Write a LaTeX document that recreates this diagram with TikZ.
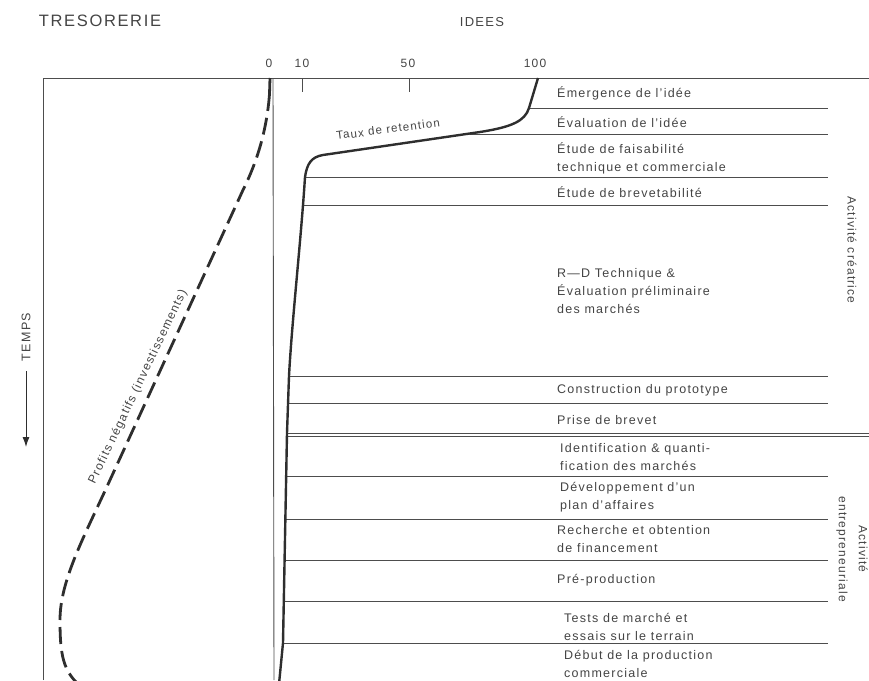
\documentclass[tikz,border=0pt]{standalone}
\usepackage{fontspec}
\setmainfont{Liberation Sans}[LetterSpace=10]
\usetikzlibrary{arrows.meta}
\definecolor{ink}{HTML}{2E2E2E}
\definecolor{txt}{HTML}{444444}
\begin{document}
\begin{tikzpicture}[x=1pt,y=-1pt,
  frame/.style={line width=0.9pt, draw=ink!85},
  sepline/.style={line width=0.9pt, draw=ink!85},
  ret/.style={line width=2.4pt, draw=ink, line join=round},
  cash/.style={line width=2.8pt, draw=ink, dash pattern=on 17pt off 7pt},
  lbl/.style={anchor=west, inner sep=0pt, text=txt, align=left, font=\fontsize{12.5}{18}\selectfont},
  num/.style={inner sep=0pt, text=txt, font=\fontsize{12}{14}\selectfont},
  side/.style={inner sep=0pt, text=txt, align=center, font=\fontsize{12}{20}\selectfont}]
\useasboundingbox (0,0) rectangle (869,680);
\clip (0,0) rectangle (869,680);
% headings
\node[inner sep=0pt, text=txt, font=\fontsize{16.5}{18}\selectfont] (tres) at (100,21) {TRESORERIE};
\node[inner sep=0pt, text=txt, font=\fontsize{13}{15}\selectfont] (idees) at (482,22) {IDEES};
% scale numbers
\node[num] (n0) at (269,63) {0};
\node[num] (n10) at (302,63) {10};
\node[num] (n50) at (408,63) {50};
\node[num] (n100) at (535,63) {100};
% frame and axes
\draw[frame] (43,680) -- (43,78) -- (869,78);
\draw[frame] (273,78) -- (274,680);
\draw[frame] (302,78) -- (302,92);
\draw[frame] (409,78) -- (409,92);
% separators
\draw[sepline] (530,108) -- (828,108);
\draw[sepline] (470,134) -- (828,134);
\draw[sepline] (305,177) -- (828,177);
\draw[sepline] (303,205) -- (828,205);
\draw[sepline] (289,376) -- (828,376);
\draw[sepline] (288,403) -- (828,403);
\draw[sepline] (287,433) -- (869,433);
\draw[sepline] (287,436.5) -- (869,436.5);
\draw[sepline] (286,476) -- (828,476);
\draw[sepline] (285,519) -- (828,519);
\draw[sepline] (284,560) -- (828,560);
\draw[sepline] (284,601) -- (828,601);
\draw[sepline] (283,643) -- (828,643);
% retention curve
\draw[ret] (538,78) -- (529,108) .. controls (525,121) and (512,127) .. (480,132)
  -- (323,155) .. controls (311,157) and (307,164) .. (305,177)
  .. controls (301,240) and (292,320) .. (289,376) -- (287,433) -- (283,643) -- (279,684);
\node[inner sep=0pt, text=txt, rotate=7.5, font=\fontsize{11.5}{13}\selectfont] (taux) at (388,129) {Taux de retention};
% cash curve
\draw[line width=2.8pt, draw=ink] (270,78) -- (269.5,94);
\draw[cash] (269.5,94) .. controls (267,128) and (258,160) .. (243,190)
  -- (110,480) .. controls (85,535) and (60,580) .. (60,620)
  .. controls (60,660) and (64,675) .. (88,692);
\node[inner sep=0pt, text=txt, rotate=64.5, font=\fontsize{12}{13}\selectfont] (profits) at (138,387) {Profits négatifs (investissements)};
% time axis
\node[inner sep=0pt, text=txt, rotate=90, font=\fontsize{12.5}{14}\selectfont] (temps) at (26,337) {TEMPS};
\coordinate (tA) at (26,371);
\coordinate (tB) at (26,447);
\draw[line width=1pt, draw=ink, -{Latex[length=10pt,width=7pt]}] (tA) -- (tB);
% stage labels
\node[lbl] (s1) at (557,93) {Émergence de l'idée};
\node[lbl] (s2) at (557,122) {Évaluation de l'idée};
\node[lbl] (s3) at (557,158) {Étude de faisabilité\\technique et commerciale};
\node[lbl] (s4) at (557,192) {Étude de brevetabilité};
\node[lbl] (s5) at (557,291) {R—D Technique \&\\Évaluation préliminaire\\des marchés};
\node[lbl] (s6) at (557,390) {Construction du prototype};
\node[lbl] (s7) at (557,420) {Prise de brevet};
\node[lbl] (s8) at (560,457) {Identification \& quanti-\\fication des marchés};
\node[lbl] (s9) at (560,497) {Développement d'un\\plan d'affaires};
\node[lbl] (s10) at (557,539) {Recherche et obtention\\de financement};
\node[lbl] (s11) at (557,580) {Pré-production};
\node[lbl] (s12) at (564,627) {Tests de marché et\\essais sur le terrain};
\node[lbl] (s13) at (564,664) {Début de la production\\commerciale};
% side labels
\node[side, rotate=-90] (crea) at (852,250) {Activité créatrice};
\node[side, rotate=-90] (entr) at (852,549) {Activité\\entrepreneuriale};
\end{tikzpicture}
\end{document}
